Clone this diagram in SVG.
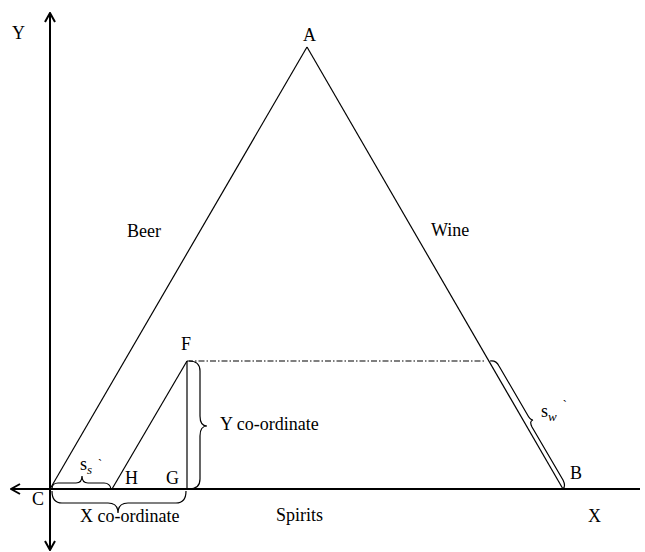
<svg xmlns="http://www.w3.org/2000/svg" width="645" height="552" viewBox="0 0 645 552">
<style>
.t{font-family:'Liberation Serif','DejaVu Serif',serif;font-size:18px;fill:#000}
.ax{stroke:#000;stroke-width:2;fill:none}
.ln{stroke:#000;stroke-width:1.2;fill:none}
.br{stroke:#000;stroke-width:1.2;fill:none}
.sub{font-size:13px;font-style:italic}
</style>
<defs>
<marker id="arr" viewBox="0 0 12 12" refX="11" refY="6" markerWidth="12" markerHeight="12" markerUnits="userSpaceOnUse" orient="auto">
<path d="M2,1 L11,6 L2,11" fill="none" stroke="#000" stroke-width="2"/>
</marker>
</defs>
<g id="axes">
<line class="ax" x1="50" y1="489" x2="50" y2="13" marker-end="url(#arr)"/>
<line class="ax" x1="50" y1="489" x2="50" y2="550" marker-end="url(#arr)"/>
<line class="ax" x1="50" y1="489" x2="11" y2="489" marker-end="url(#arr)"/>
<line class="ax" x1="50" y1="489" x2="640" y2="489"/>
</g>
<g id="connectors">
<line class="ln" x1="50" y1="489" x2="307" y2="47"/>
<line class="ln" x1="307" y1="47" x2="563" y2="489"/>
<line class="ln" x1="112" y1="489" x2="187" y2="361"/>
<line class="ln" x1="187" y1="361" x2="187" y2="489"/>
<line class="ln" x1="187" y1="361" x2="486" y2="361" stroke-dasharray="6,2,1.5,2"/>
</g>
<g id="braces">
<path class="br" d="M52,491 Q52,503 62,503 L108,503 Q118,503 118,513 Q118,503 128,503 L176,503 Q186,503 186,491"/>
<path class="br" d="M52,489 Q52,483 58,483 L76,483 Q82,483 82,476 Q82,483 88,483 L104,483 Q110,483 111,489"/>
<path class="br" d="M189,361 Q200,361 200,371 L200,416 Q200,426 207,426 Q200,426 200,436 L200,479 Q200,489 189,489"/>
<path class="br" d="M490,361 Q496,360 499,366 L527,414 Q530,420 533,420 Q529,421 532,427 L563,480 Q566,486 563,489"/>
</g>
<g id="labels" class="t" font-family="Liberation Serif, DejaVu Serif, serif">
<text x="12" y="39">Y</text>
<text x="303" y="41">A</text>
<text x="127" y="237">Beer</text>
<text x="431" y="236">Wine</text>
<text x="181" y="350">F</text>
<text x="220" y="430">Y co-ordinate</text>
<text x="125" y="484">H</text>
<text x="166" y="484">G</text>
<text x="32" y="505">C</text>
<text x="570" y="479">B</text>
<text x="588" y="522">X</text>
<text x="276" y="521">Spirits</text>
<text x="80" y="522">X co-ordinate</text>
<text x="80" y="470">s<tspan class="sub" dy="4">s</tspan><tspan dx="6" dy="-6" font-size="12">`</tspan></text>
<text x="541" y="417">s<tspan class="sub" dy="4">w</tspan><tspan dx="6" dy="-12" font-size="12">`</tspan></text>
</g>
</svg>
